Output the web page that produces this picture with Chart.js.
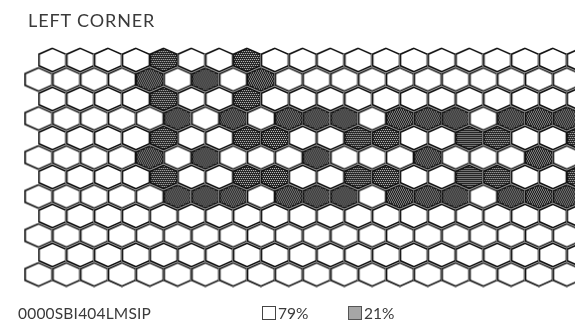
<!DOCTYPE html>
<html>
<head>
<meta charset="utf-8">
<script src="https://cdn.jsdelivr.net/npm/chart.js@4/dist/chart.umd.min.js"></script>
<style>
  body { margin: 0; background: #fff; }
  #wrap { position: relative; width: 575px; height: 325px; overflow: hidden; font-family: Lato, "Open Sans", sans-serif; color: #3a3a3a; }
  #chart { position: absolute; left: 0; top: 0; }
  .title { position: absolute; left: 28px; top: 9px; font-size: 18px; letter-spacing: 0.9px; }
  .code { position: absolute; left: 18px; top: 304px; font-size: 15.5px; letter-spacing: 0.2px; }
  .key { position: absolute; top: 304px; font-size: 15.5px; }
  .key i { display: inline-block; width: 12px; height: 12px; border: 1px solid #444; vertical-align: -1px; margin-right: 2px; }
</style>
</head>
<body>
<div id="wrap">
  <canvas id="chart" width="575" height="325"></canvas>
  <div class="title">LEFT CORNER</div>
  <div class="code" id="code"></div>
  <div class="key" id="keyLight" style="left:262px"><i style="background:#fff"></i><span></span></div>
  <div class="key" id="keyDark" style="left:348px"><i style="background:#a6a6a6;border-color:#555"></i><span></span></div>
</div>
<script>
// grid size and pattern code
const rowCount = 12;
const colCount = 20;
const patternCode = "0000SBI404LMSIP";

// dark cells, column index per row (odd rows are shifted half a cell left)
const dark0 = [4, 7];
const dark1 = [4, 6, 8];
const dark2 = [4, 7];
const dark3 = [5, 7, 9, 10, 11, 13, 14, 15, 17, 18, 19];
const dark4 = [4, 7, 8, 11, 12, 15, 16, 19];
const dark5 = [4, 6, 10, 14, 18];
const dark6 = [4, 7, 8, 11, 12, 15, 16, 19];
const dark7 = [5, 6, 7, 9, 10, 11, 13, 14, 15, 17, 18, 19];
const darkRows = [dark0, dark1, dark2, dark3, dark4, dark5, dark6, dark7, [], [], [], []];

// layout: pixel pitch of the grid
const X0 = 52.5, PX = 27.8;
const Y0 = 60, PY = 19.5;
const W = 575, H = 325;

const lightPts = [];
const darkPts = [];
for (let r = 0; r < rowCount; r++) {
  for (let k = 0; k < colCount; k++) {
    const p = { x: k - (r % 2 ? 0.5 : 0), y: r };
    if (darkRows[r].includes(k)) darkPts.push(p); else lightPts.push(p);
  }
}

const total = lightPts.length + darkPts.length;
const darkPct = Math.round(darkPts.length / total * 100);
document.getElementById("code").textContent = patternCode;
document.querySelector("#keyLight span").textContent = (100 - darkPct) + "%";
document.querySelector("#keyDark span").textContent = darkPct + "%";

function hexPath(ctx, cx, cy) {
  const a = 13.4, b = 11.6, s = 5.8;
  ctx.beginPath();
  ctx.moveTo(cx, cy - b);
  ctx.lineTo(cx + a, cy - s);
  ctx.lineTo(cx + a, cy + s);
  ctx.lineTo(cx, cy + b);
  ctx.lineTo(cx - a, cy + s);
  ctx.lineTo(cx - a, cy - s);
  ctx.closePath();
}

function makeHex(isDark) {
  const c = document.createElement("canvas");
  c.width = 30; c.height = 26;
  const ctx = c.getContext("2d");
  const cx = 15, cy = 13;
  // soft gray shadow on the left
  hexPath(ctx, cx - 1, cy);
  ctx.strokeStyle = "#8a8a8a";
  ctx.lineWidth = 1.2;
  ctx.stroke();
  hexPath(ctx, cx, cy);
  ctx.fillStyle = isDark ? "#262626" : "#fff";
  ctx.fill();
  if (isDark) {
    ctx.save();
    ctx.clip();
    ctx.fillStyle = "#c4c4c4";
    for (let y = 0; y < 26; y += 2) {
      const off = (y / 2) % 2;
      for (let x = 0; x < 30; x += 2) ctx.fillRect(x + off, y, 1, 1);
    }
    ctx.restore();
  }
  hexPath(ctx, cx, cy);
  ctx.strokeStyle = "#111";
  ctx.lineWidth = 1.5;
  ctx.stroke();
  return c;
}

const lightHex = makeHex(false);
const darkHex = makeHex(true);

new Chart(document.getElementById("chart"), {
  type: "scatter",
  data: {
    datasets: [
      { label: "light", data: lightPts, pointStyle: lightHex, pointRadius: 15, pointHoverRadius: 15, borderWidth: 0, clip: false },
      { label: "dark", data: darkPts, pointStyle: darkHex, pointRadius: 15, pointHoverRadius: 15, borderWidth: 0, clip: false }
    ]
  },
  options: {
    responsive: false,
    animation: false,
    events: [],
    layout: { padding: 0, autoPadding: false },
    plugins: { legend: { display: false }, title: { display: false }, tooltip: { enabled: false } },
    scales: {
      x: { type: "linear", display: false, min: -X0 / PX, max: (W - X0) / PX },
      y: { type: "linear", display: false, reverse: true, min: -Y0 / PY, max: (H - Y0) / PY }
    }
  }
});
</script>
</body>
</html>
